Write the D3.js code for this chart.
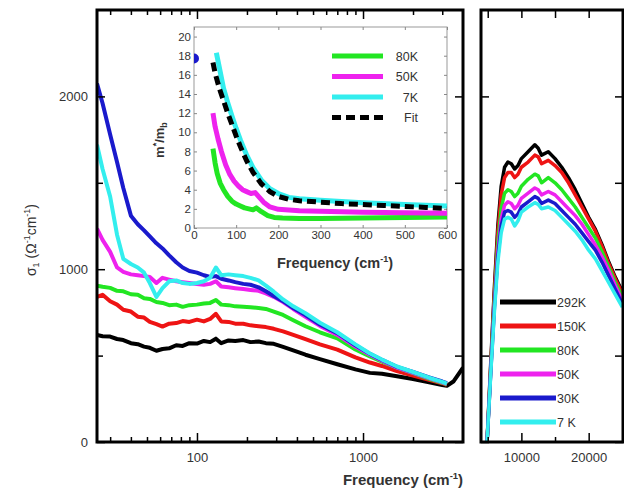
<!DOCTYPE html>
<html><head><meta charset="utf-8">
<script src="https://cdn.jsdelivr.net/npm/d3@7"></script>
<style>body{margin:0;background:#fff}svg{display:block;font-family:"Liberation Sans",Arial,sans-serif}</style>
</head><body><svg id="c" width="624" height="493"></svg>
<script>
// ---------- DATA ----------
const seriesNames = ["292K","150K","80K","50K","30K","7 K"];
const seriesColors = ["#000000","#ee1414","#22e622","#ee22ee","#1a1acc","#33eeee"];

// main panel (log frequency, cm^-1)
const freqMain = [25,27,30,33,36,40,44,48,52,57,62,68,75,82,90,100,110,120,130,140,155,170,190,210,235,260,290,330,380,450,550,700,900,1100,1300,1600,2000,2500,3000,3200,3500,4000];
const sig292 = [620,612,610,596,590,572,566,552,545,528,538,542,560,556,572,570,585,578,598,572,588,585,590,578,582,572,568,550,530,505,480,450,420,400,395,380,365,345,330,325,350,430];
const sig150 = [840,852,815,795,765,755,725,720,695,682,668,685,688,700,695,708,698,712,742,698,695,685,684,675,670,665,655,640,620,595,565,535,490,460,440,410,385,360,340,330,null,null];
const sig80  = [905,898,892,875,872,855,852,832,828,810,805,792,795,782,792,795,802,805,822,795,792,785,782,780,775,770,755,735,705,670,635,600,535,495,465,430,398,366,343,333,null,null];
const sig50  = [1235,1170,1100,1010,985,970,965,960,955,920,950,940,930,925,920,915,910,915,930,900,895,890,885,880,875,860,840,810,770,725,672,620,553,505,470,430,400,370,345,336,null,null];
const sig30  = [2075,1960,1780,1620,1470,1310,1260,1225,1190,1150,1120,1080,1040,1010,990,980,965,955,960,945,935,925,915,910,895,872,845,815,775,735,680,630,560,510,475,435,405,374,350,340,null,null];
const sig7   = [1720,1580,1420,1200,1060,1030,1010,980,920,840,890,930,935,920,915,920,930,950,1010,965,970,965,960,950,935,905,870,825,785,745,690,635,565,512,477,437,405,372,348,338,null,null];

// right panel (linear frequency, cm^-1)
const freqR = [4900,5500,6000,6500,7000,7500,8000,8500,9000,9500,10000,11000,12000,12500,13000,14000,15000,16000,17000,18000,19000,20000,21000,22000,23000,24000,25000];
const r292 = [0,500,900,1250,1480,1590,1620,1610,1580,1600,1640,1680,1720,1700,1660,1680,1640,1590,1530,1460,1380,1300,1230,1140,1040,950,870];
const r150 = [0,480,870,1210,1430,1530,1560,1560,1530,1550,1590,1620,1660,1650,1610,1630,1600,1560,1500,1430,1360,1290,1220,1130,1030,940,860];
const r80  = [0,460,830,1150,1350,1440,1460,1450,1420,1440,1480,1520,1550,1540,1500,1530,1500,1460,1410,1360,1300,1240,1180,1100,1010,920,840];
const r50  = [0,450,800,1100,1290,1370,1390,1380,1350,1370,1410,1440,1470,1460,1430,1450,1430,1390,1350,1310,1260,1200,1140,1070,990,900,820];
const r30  = [0,440,780,1070,1250,1330,1340,1330,1300,1320,1360,1390,1420,1410,1380,1400,1380,1340,1300,1260,1210,1160,1110,1040,960,880,800];
const r7   = [0,430,760,1040,1210,1290,1300,1290,1250,1280,1330,1360,1385,1375,1350,1360,1340,1300,1260,1220,1170,1110,1060,990,920,850,780];

// inset: effective mass m*/m_b
const insetNames = ["80K","50K","7K","Fit"];
const insetColors = ["#22e622","#ee22ee","#33eeee","#000000"];
const inset80 = [[45,8.3],[50,6.8],[55,5.7],[62,4.7],[70,4.0],[80,3.3],[90,2.8],[100,2.5],[110,2.3],[120,2.1],[130,2.0],[140,1.9],[148,2.1],[160,1.7],[175,1.3],[190,1.1],[210,1.05],[250,1.0],[300,1.0],[400,1.05],[500,1.1],[600,1.15]];
const inset50 = [[45,12.0],[50,10.6],[57,9.3],[65,8.0],[75,6.6],[85,5.6],[95,4.9],[105,4.4],[115,4.0],[125,3.8],[135,3.6],[145,3.7],[155,3.2],[165,2.7],[180,2.2],[200,1.95],[250,1.8],[300,1.75],[400,1.65],[500,1.6],[600,1.55]];
const inset7  = [[53,18.3],[60,16.8],[70,14.6],[80,13.1],[90,11.7],[100,10.4],[110,9.2],[125,7.6],[140,6.3],[160,5.0],[180,4.1],[200,3.6],[225,3.2],[250,3.05],[300,2.9],[400,2.65],[500,2.45],[600,2.3]];
const insetFit = [[45,17.3],[50,16.2],[60,14.6],[70,13.3],[80,12.0],[90,10.8],[100,9.6],[110,8.5],[125,7.0],[140,5.8],[160,4.6],[180,3.8],[200,3.3],[225,3.0],[250,2.85],[300,2.7],[350,2.55],[400,2.45],[450,2.35],[500,2.25],[550,2.15],[600,2.05]];
const inset30pt = [[0,17.7]];

const yTicksMain = [0,1000,2000];
const yMinorMain = [500,1500];
const xTicksMain = [100,1000];
const xMinorMain = [30,40,50,60,70,80,90,200,300,400,500,600,700,800,900,2000,3000];
const xTicksR = [10000,20000];
const xMinorR = [5000,15000,25000];
const yTicksInset = [0,2,4,6,8,10,12,14,16,18,20];
const xTicksInset = [0,100,200,300,400,500,600];

// ---------- LAYOUT ----------
const svg = d3.select("#c");
const M = {l:97, r:463, t:10, b:442};
const R = {l:481, r:623, t:10, b:442};
const I = {l:194, r:447, t:27, b:228};

const x = d3.scaleLog().domain([25,4000]).range([M.l, M.r]);
const y = d3.scaleLinear().domain([0,2500]).range([M.b, M.t]);
const xr = d3.scaleLinear().domain([4000,25100]).range([R.l, R.r]);
const xi = d3.scaleLinear().domain([0,600]).range([I.l, I.r]);
const yi = d3.scaleLinear().domain([0,21]).range([I.b, I.t]);

const defs = svg.append("defs");
defs.append("clipPath").attr("id","cm").append("rect").attr("x",M.l).attr("y",M.t).attr("width",M.r-M.l).attr("height",M.b-M.t);
defs.append("clipPath").attr("id","cr").append("rect").attr("x",R.l).attr("y",R.t).attr("width",R.r-R.l).attr("height",R.b-R.t);
defs.append("clipPath").attr("id","ci").append("rect").attr("x",I.l).attr("y",I.t).attr("width",I.r-I.l).attr("height",I.b-I.t);

function styleAxis(g, w){ g.select(".domain").remove(); g.selectAll(".tick line").attr("stroke","#000").attr("stroke-width",w); g.selectAll("text").attr("fill","#333").attr("font-size",13); }

// ----- main panel curves
const mainSeries = [sig292,sig150,sig80,sig50,sig30,sig7];
const gm = svg.append("g").attr("clip-path","url(#cm)");
mainSeries.forEach((s,i)=>{
  const line = d3.line().defined((d,j)=>s[j]!=null).x((d,j)=>x(freqMain[j])).y((d,j)=>y(s[j]));
  gm.append("path").attr("d", line(freqMain)).attr("fill","none").attr("stroke",seriesColors[i]).attr("stroke-width",4).attr("stroke-linejoin","round");
});

// ----- right panel curves
const rSeries = [r292,r150,r80,r50,r30,r7];
const gr = svg.append("g").attr("clip-path","url(#cr)");
rSeries.forEach((s,i)=>{
  const line = d3.line().x((d,j)=>xr(freqR[j])).y((d,j)=>y(s[j]));
  gr.append("path").attr("d", line(freqR)).attr("fill","none").attr("stroke",seriesColors[i]).attr("stroke-width",3.5).attr("stroke-linejoin","round");
});

// ----- main axes
styleAxis(svg.append("g").attr("transform",`translate(0,${M.b})`).call(d3.axisBottom(x).tickValues(xTicksMain).tickFormat(d3.format("d")).tickSize(-9).tickPadding(11)),1.5);
styleAxis(svg.append("g").attr("transform",`translate(0,${M.b})`).call(d3.axisBottom(x).tickValues(xMinorMain).tickFormat("").tickSize(-5)),1.5);
styleAxis(svg.append("g").attr("transform",`translate(0,${M.t})`).call(d3.axisTop(x).tickValues(xTicksMain).tickFormat("").tickSize(-9)),1.5);
styleAxis(svg.append("g").attr("transform",`translate(0,${M.t})`).call(d3.axisTop(x).tickValues(xMinorMain).tickFormat("").tickSize(-5)),1.5);
styleAxis(svg.append("g").attr("transform",`translate(${M.l},0)`).call(d3.axisLeft(y).tickValues(yTicksMain).tickFormat(d3.format("d")).tickSize(-8).tickPadding(9)),1.5);
styleAxis(svg.append("g").attr("transform",`translate(${M.l},0)`).call(d3.axisLeft(y).tickValues(yMinorMain).tickFormat("").tickSize(-6)),1.5);
styleAxis(svg.append("g").attr("transform",`translate(${M.r},0)`).call(d3.axisRight(y).tickValues(yTicksMain.concat(yMinorMain)).tickFormat("").tickSize(-8)),1.5);
svg.append("rect").attr("x",M.l).attr("y",M.t).attr("width",M.r-M.l).attr("height",M.b-M.t).attr("fill","none").attr("stroke","#000").attr("stroke-width",3);

// ----- right axes
styleAxis(svg.append("g").attr("transform",`translate(0,${R.b})`).call(d3.axisBottom(xr).tickValues(xTicksR).tickFormat(d3.format("d")).tickSize(-9).tickPadding(11)),1.5);
styleAxis(svg.append("g").attr("transform",`translate(0,${R.b})`).call(d3.axisBottom(xr).tickValues(xMinorR).tickFormat("").tickSize(-5)),1.5);
styleAxis(svg.append("g").attr("transform",`translate(0,${R.t})`).call(d3.axisTop(xr).tickValues(xTicksR.concat(xMinorR)).tickFormat("").tickSize(-8)),1.5);
styleAxis(svg.append("g").attr("transform",`translate(${R.l},0)`).call(d3.axisLeft(y).tickValues(yTicksMain.concat(yMinorMain)).tickFormat("").tickSize(-8)),1.5);
styleAxis(svg.append("g").attr("transform",`translate(${R.r},0)`).call(d3.axisRight(y).tickValues(yTicksMain.concat(yMinorMain)).tickFormat("").tickSize(-8)),1.5);
svg.append("rect").attr("x",R.l).attr("y",R.t).attr("width",R.r-R.l).attr("height",R.b-R.t).attr("fill","none").attr("stroke","#000").attr("stroke-width",3);

// ----- right legend
seriesNames.forEach((n,i)=>{
  const yy = 302 + i*24;
  svg.append("line").attr("x1",500).attr("x2",556).attr("y1",yy).attr("y2",yy).attr("stroke",seriesColors[i]).attr("stroke-width",5);
  svg.append("text").attr("x",557).attr("y",yy+4.5).attr("font-size",12.5).attr("fill","#333").text(n);
});

// ----- inset
svg.append("rect").attr("x",I.l).attr("y",I.t).attr("width",I.r-I.l).attr("height",I.b-I.t).attr("fill","#fff").attr("stroke","#999").attr("stroke-width",1);
function styleInset(g){ g.select(".domain").remove(); g.selectAll(".tick line").attr("stroke","#888").attr("stroke-width",1); g.selectAll("text").attr("fill","#333").attr("font-size",11.5); }
styleInset(svg.append("g").attr("transform",`translate(${I.l},0)`).call(d3.axisLeft(yi).tickValues(yTicksInset).tickSize(-3).tickPadding(3)));
styleInset(svg.append("g").attr("transform",`translate(${I.r},0)`).call(d3.axisRight(yi).tickValues(yTicksInset).tickFormat("").tickSize(-3)));
styleInset(svg.append("g").attr("transform",`translate(0,${I.b})`).call(d3.axisBottom(xi).tickValues(xTicksInset).tickSize(-3).tickPadding(3)));
styleInset(svg.append("g").attr("transform",`translate(0,${I.t})`).call(d3.axisTop(xi).tickValues(xTicksInset).tickFormat("").tickSize(-3)));

const gi = svg.append("g").attr("clip-path","url(#ci)");
const li = d3.line().x(d=>xi(d[0])).y(d=>yi(d[1]));
[inset80, inset50, inset7].forEach((s,i)=>{
  gi.append("path").attr("d",li(s)).attr("fill","none").attr("stroke",insetColors[i]).attr("stroke-width",5).attr("stroke-linejoin","round");
});
gi.append("path").attr("d",li(insetFit)).attr("fill","none").attr("stroke","#000").attr("stroke-width",5).attr("stroke-dasharray","9,5");
gi.selectAll("circle.p30").data(inset30pt).enter().append("circle").attr("cx",d=>xi(d[0])).attr("cy",d=>yi(d[1])).attr("r",5).attr("fill","#1a1acc");

insetNames.forEach((n,i)=>{
  const yy = 56 + i*20.5;
  svg.append("line").attr("x1",332).attr("x2",383).attr("y1",yy).attr("y2",yy).attr("stroke",insetColors[i]).attr("stroke-width",5).attr("stroke-dasharray", n==="Fit" ? "9,5" : null);
  svg.append("text").attr("x",418).attr("y",yy+4.5).attr("text-anchor","end").attr("font-size",12.5).attr("fill","#333").text(n);
});

// inset titles
const tI = svg.append("text").attr("x",335).attr("y",268).attr("text-anchor","middle").attr("font-size",14.5).attr("font-weight","bold").attr("fill","#333");
tI.append("tspan").text("Frequency (cm");
tI.append("tspan").attr("dy",-6).attr("font-size",9).text("-1");
tI.append("tspan").attr("dy",6).text(")");
const tIy = svg.append("text").attr("transform","translate(164,140) rotate(-90)").attr("text-anchor","middle").attr("font-size",13).attr("font-weight","bold").attr("fill","#333");
tIy.append("tspan").text("m");
tIy.append("tspan").attr("dy",-5).attr("font-size",9).text("*");
tIy.append("tspan").attr("dy",5).text("/m");
tIy.append("tspan").attr("dy",3).attr("font-size",9).text("b");

// main titles
const tX = svg.append("text").attr("x",403).attr("y",485).attr("text-anchor","middle").attr("font-size",15).attr("font-weight","bold").attr("fill","#333");
tX.append("tspan").text("Frequency (cm");
tX.append("tspan").attr("dy",-6).attr("font-size",9.5).text("-1");
tX.append("tspan").attr("dy",6).text(")");
const tY = svg.append("text").attr("transform","translate(36,240) rotate(-90)").attr("text-anchor","middle").attr("font-size",14).attr("fill","#333");
tY.append("tspan").text("σ");
tY.append("tspan").attr("dy",3).attr("font-size",9).text("1");
tY.append("tspan").attr("dy",-3).text(" (Ω");
tY.append("tspan").attr("dy",-6).attr("font-size",9).text("-1");
tY.append("tspan").attr("dy",6).text("cm");
tY.append("tspan").attr("dy",-6).attr("font-size",9).text("-1");
tY.append("tspan").attr("dy",6).text(")");
</script></body></html>
